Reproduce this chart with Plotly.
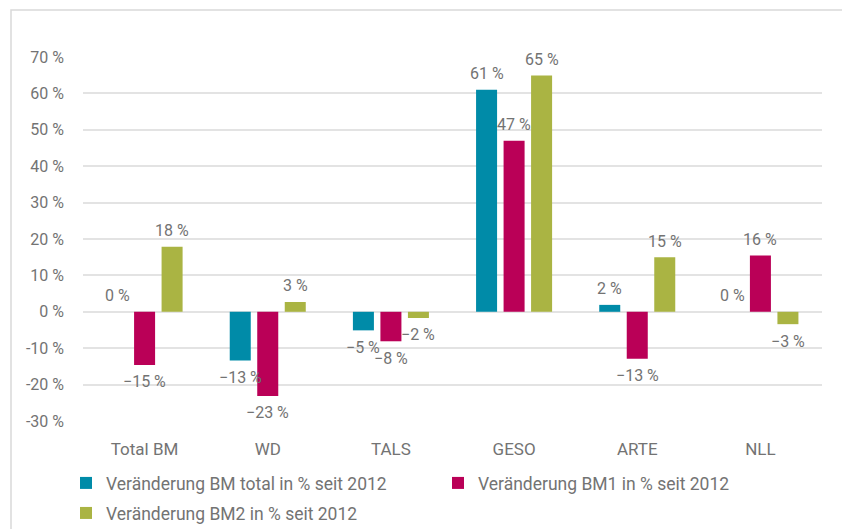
import plotly.graph_objects as go

categories = ["Total BM", "WD", "TALS", "GESO", "ARTE", "NLL"]
series_names = [
    "Veränderung BM total in % seit 2012",
    "Veränderung BM1 in % seit 2012",
    "Veränderung BM2 in % seit 2012",
]
bm_total = [0.0, -13.4, -5.1, 61.0, 1.9, 0.0]
bm1 = [-14.6, -23.1, -8.1, 47.0, -12.9, 15.5]
bm2 = [17.9, 2.7, -1.7, 64.9, 15.0, -3.4]
colors = ["#008BA8", "#BA0057", "#AAB443"]

y_ticks = [-30, -20, -10, 0, 10, 20, 30, 40, 50, 60, 70]
y_ticktext = [f"{v} %" for v in y_ticks]

FONT = "Roboto, Liberation Sans, sans-serif"
GREY = "#737373"

# page body has an 8px margin, so the figure is a bit smaller than the window
W, H = 842, 521
ML, MR, MT, MB = 75, 28, 49, 108
BARGAP, GROUPGAP = 0.33, 0.236


def label(v):
    r = round(v)
    return f"\u2212{abs(r)} %" if r < 0 else f"{r} %"


fig = go.Figure()
all_series = [bm_total, bm1, bm2]
for i, (name, vals, col) in enumerate(zip(series_names, all_series, colors)):
    fig.add_trace(go.Bar(
        x=categories, y=vals, name=name,
        marker=dict(color=col, line=dict(width=0)),
        legend="legend" if i < 2 else "legend2",
    ))

# data labels, offset to sit over each bar of the group
pw, ph = W - ML - MR, H - MT - MB
slot = pw / len(categories) * (1 - BARGAP) / 3
for i, vals in enumerate(all_series):
    for cat, v in zip(categories, vals):
        fig.add_annotation(
            x=cat, y=v, text=label(v), showarrow=False,
            xshift=(i - 1) * slot, yshift=16 if v >= 0 else -17,
            yanchor="middle",
            font=dict(family=FONT, size=16, color=GREY),
        )

# outer frame (left and top edges visible)
fx = (3 - ML) / pw
fy = (H - MB - 2) / ph
fig.add_shape(type="path", xref="paper", yref="paper",
              path=f"M {fx} -1 L {fx} {fy} L 2 {fy}",
              line=dict(color="#d9d9d9", width=1.5))

leg_common = dict(orientation="h", xanchor="left", yanchor="top",
                  entrywidth=327, entrywidthmode="pixels",
                  font=dict(family=FONT, size=17.5, color=GREY),
                  itemwidth=30, bgcolor="rgba(0,0,0,0)")
fig.update_layout(
    width=W, height=H,
    margin=dict(l=ML, r=MR, t=MT, b=MB, autoexpand=False),
    paper_bgcolor="white", plot_bgcolor="white",
    barmode="group", bargap=BARGAP, bargroupgap=GROUPGAP,
    font=dict(family=FONT, size=16, color=GREY),
    showlegend=True,
    legend=dict(x=-0.023, y=-0.121, **leg_common),
    legend2=dict(x=-0.023, y=-0.2035, **leg_common),
)
fig.update_xaxes(showgrid=False, showline=False, ticks="",
                 ticklabelstandoff=16, tickfont=dict(size=17, color=GREY))
fig.update_yaxes(range=[-30, 70], tickvals=y_ticks, ticktext=y_ticktext,
                 showgrid=True, gridcolor="#e3e3e3", gridwidth=1.5,
                 zeroline=True, zerolinecolor="#e3e3e3", zerolinewidth=1.5,
                 ticks="", ticklabelstandoff=18, tickfont=dict(size=16, color=GREY))

fig.write_html("out.html")
